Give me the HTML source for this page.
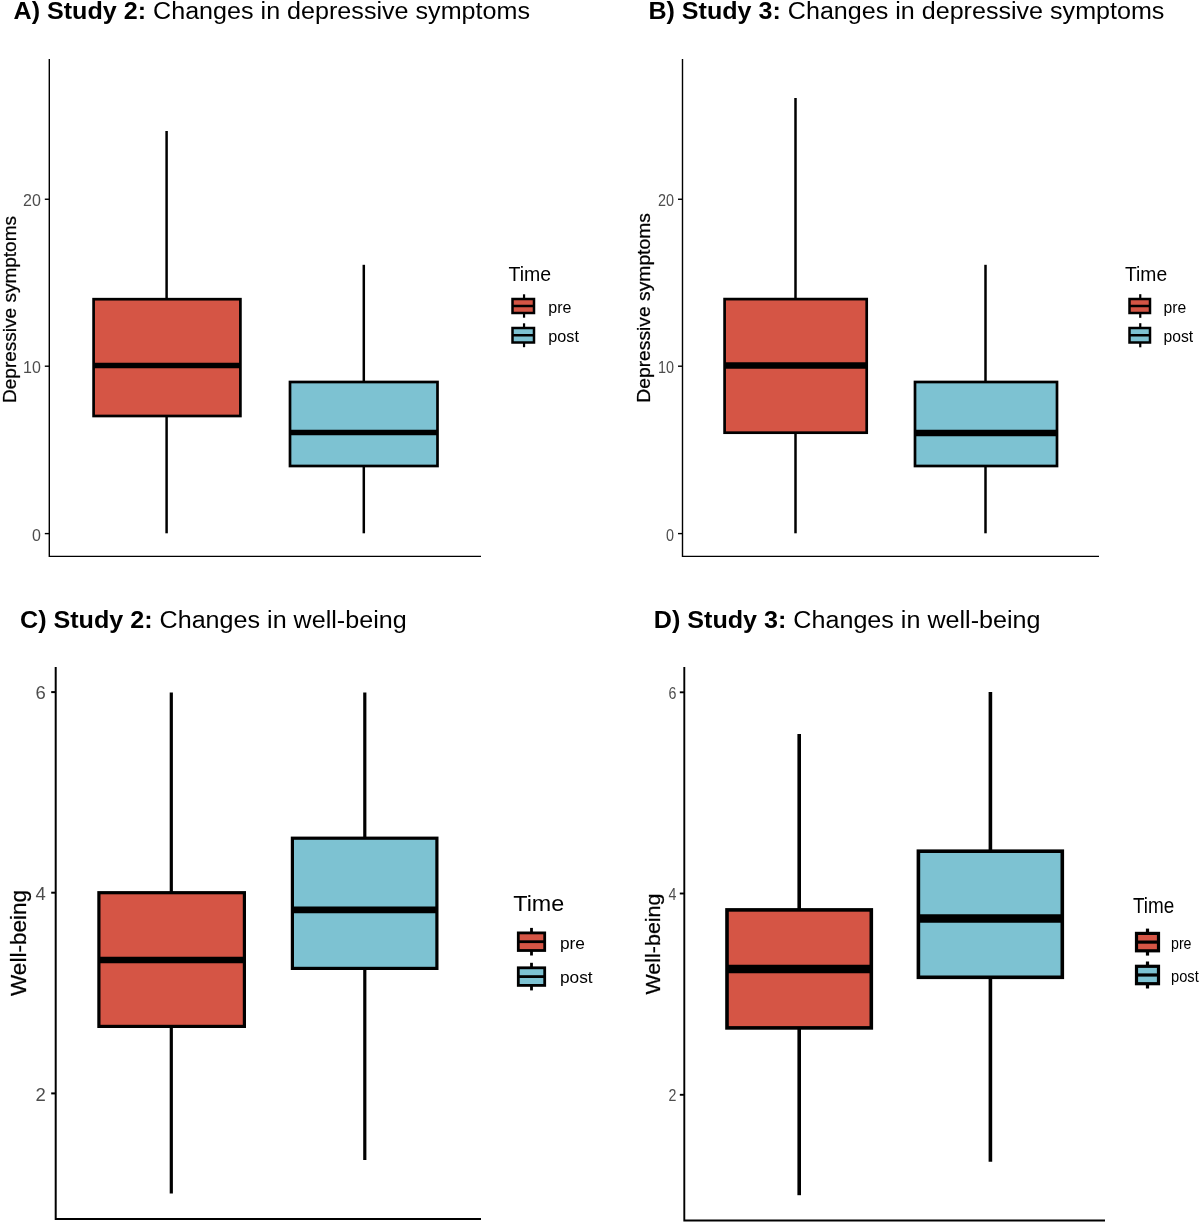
<!DOCTYPE html>
<html lang="en"><head><meta charset="utf-8"><title>Boxplots</title>
<style>
html,body{margin:0;padding:0;background:#fff;}
svg{display:block;font-family:"Liberation Sans", Arial, sans-serif;}
</style></head>
<body>
<svg width="1200" height="1223" viewBox="0 0 1200 1223">
<rect width="1200" height="1223" fill="#fff"/>
<text x="13.5" y="19" font-size="23.5" fill="#000" text-anchor="start" textLength="516.5" lengthAdjust="spacingAndGlyphs"><tspan font-weight="bold">A) Study 2:</tspan> Changes in depressive symptoms</text>
<polyline points="49.3,59 49.3,556.4 481,556.4" fill="none" stroke="#000" stroke-width="1.4"/>
<line x1="44.8" y1="199.25" x2="49.3" y2="199.25" stroke="#000" stroke-width="1.4"/>
<text x="40.8" y="206.37800000000001" font-size="16" fill="#4d4d4d" text-anchor="end">20</text>
<line x1="44.8" y1="366.2" x2="49.3" y2="366.2" stroke="#000" stroke-width="1.4"/>
<text x="40.8" y="373.328" font-size="16" fill="#4d4d4d" text-anchor="end">10</text>
<line x1="44.8" y1="533.6" x2="49.3" y2="533.6" stroke="#000" stroke-width="1.4"/>
<text x="40.8" y="540.728" font-size="16" fill="#4d4d4d" text-anchor="end">0</text>
<text transform="translate(16.2,309.5) rotate(-90)" font-size="18" fill="#000" stroke="#000" stroke-width="0.25" text-anchor="middle" textLength="187" lengthAdjust="spacingAndGlyphs">Depressive symptoms</text>
<line x1="166.6" y1="131" x2="166.6" y2="299.2" stroke="#000" stroke-width="2.5"/>
<line x1="166.6" y1="416" x2="166.6" y2="533.3" stroke="#000" stroke-width="2.5"/>
<rect x="93.6" y="299.2" width="146.8" height="116.80000000000001" fill="#D55545" stroke="#000" stroke-width="2.7"/>
<line x1="93.6" y1="365.5" x2="240.4" y2="365.5" stroke="#000" stroke-width="5.5"/>
<line x1="363.8" y1="264.8" x2="363.8" y2="382.0" stroke="#000" stroke-width="2.5"/>
<line x1="363.8" y1="466" x2="363.8" y2="533.3" stroke="#000" stroke-width="2.5"/>
<rect x="290" y="382.0" width="147.5" height="84.0" fill="#7DC2D2" stroke="#000" stroke-width="2.7"/>
<line x1="290" y1="432.6" x2="437.5" y2="432.6" stroke="#000" stroke-width="5.5"/>
<text x="508.5" y="281" font-size="19.5" fill="#000" text-anchor="start">Time</text>
<line x1="524.05" y1="294.3" x2="524.05" y2="317.7" stroke="#000" stroke-width="2.2"/><rect x="512.5" y="299" width="21.5" height="14" fill="#D55545" stroke="#000" stroke-width="2.5"/><line x1="512.5" y1="306.0" x2="534" y2="306.0" stroke="#000" stroke-width="2.5"/>
<line x1="524.05" y1="323.3" x2="524.05" y2="347.2" stroke="#000" stroke-width="2.2"/><rect x="512.5" y="328" width="21.5" height="14.5" fill="#7DC2D2" stroke="#000" stroke-width="2.5"/><line x1="512.5" y1="335.25" x2="534" y2="335.25" stroke="#000" stroke-width="2.5"/>
<text x="548.3" y="312.5" font-size="16" fill="#000" text-anchor="start">pre</text>
<text x="548.3" y="342" font-size="16.2" fill="#000" text-anchor="start">post</text>
<text x="648.4" y="19" font-size="23.5" fill="#000" text-anchor="start" textLength="516" lengthAdjust="spacingAndGlyphs"><tspan font-weight="bold">B) Study 3:</tspan> Changes in depressive symptoms</text>
<polyline points="682.5,59 682.5,556.4 1099,556.4" fill="none" stroke="#000" stroke-width="1.4"/>
<line x1="678.0" y1="199.25" x2="682.5" y2="199.25" stroke="#000" stroke-width="1.4"/>
<text x="674" y="206.37800000000001" font-size="16" fill="#4d4d4d" text-anchor="end" textLength="16" lengthAdjust="spacingAndGlyphs">20</text>
<line x1="678.0" y1="366.2" x2="682.5" y2="366.2" stroke="#000" stroke-width="1.4"/>
<text x="674" y="373.328" font-size="16" fill="#4d4d4d" text-anchor="end" textLength="16" lengthAdjust="spacingAndGlyphs">10</text>
<line x1="678.0" y1="533.6" x2="682.5" y2="533.6" stroke="#000" stroke-width="1.4"/>
<text x="674" y="540.728" font-size="16" fill="#4d4d4d" text-anchor="end" textLength="8" lengthAdjust="spacingAndGlyphs">0</text>
<text transform="translate(650.4,307.9) rotate(-90)" font-size="18" fill="#000" stroke="#000" stroke-width="0.25" text-anchor="middle" textLength="189.5" lengthAdjust="spacingAndGlyphs">Depressive symptoms</text>
<line x1="795.5" y1="98" x2="795.5" y2="299.1" stroke="#000" stroke-width="2.5"/>
<line x1="795.5" y1="432.7" x2="795.5" y2="533.3" stroke="#000" stroke-width="2.5"/>
<rect x="724.6" y="299.1" width="142.10000000000002" height="133.59999999999997" fill="#D55545" stroke="#000" stroke-width="2.7"/>
<line x1="724.6" y1="365.5" x2="866.7" y2="365.5" stroke="#000" stroke-width="6.5"/>
<line x1="985.5" y1="264.8" x2="985.5" y2="382.0" stroke="#000" stroke-width="2.5"/>
<line x1="985.5" y1="466" x2="985.5" y2="533.3" stroke="#000" stroke-width="2.5"/>
<rect x="915" y="382.0" width="142" height="84.0" fill="#7DC2D2" stroke="#000" stroke-width="2.7"/>
<line x1="915" y1="433" x2="1057" y2="433" stroke="#000" stroke-width="6.5"/>
<text x="1125" y="281" font-size="19.3" fill="#000" text-anchor="start">Time</text>
<line x1="1140.25" y1="294.2" x2="1140.25" y2="317.8" stroke="#000" stroke-width="2.2"/><rect x="1129.5" y="299" width="20.5" height="14" fill="#D55545" stroke="#000" stroke-width="2.5"/><line x1="1129.5" y1="306.0" x2="1150" y2="306.0" stroke="#000" stroke-width="2.5"/>
<line x1="1140.25" y1="323.2" x2="1140.25" y2="347.3" stroke="#000" stroke-width="2.2"/><rect x="1129.5" y="328" width="20.5" height="14.5" fill="#7DC2D2" stroke="#000" stroke-width="2.5"/><line x1="1129.5" y1="335.25" x2="1150" y2="335.25" stroke="#000" stroke-width="2.5"/>
<text x="1163.5" y="312.5" font-size="15.7" fill="#000" text-anchor="start">pre</text>
<text x="1163.5" y="342" font-size="15.7" fill="#000" text-anchor="start">post</text>
<text x="20" y="628" font-size="23.5" fill="#000" text-anchor="start" textLength="386.7" lengthAdjust="spacingAndGlyphs"><tspan font-weight="bold">C) Study 2:</tspan> Changes in well-being</text>
<polyline points="55.7,667 55.7,1219 481,1219" fill="none" stroke="#000" stroke-width="2.0"/>
<line x1="51.2" y1="692.1" x2="55.7" y2="692.1" stroke="#000" stroke-width="2.0"/>
<text x="45.7" y="699.3230000000001" font-size="18.5" fill="#4d4d4d" text-anchor="end">6</text>
<line x1="51.2" y1="892.7" x2="55.7" y2="892.7" stroke="#000" stroke-width="2.0"/>
<text x="45.7" y="899.9230000000001" font-size="18.5" fill="#4d4d4d" text-anchor="end">4</text>
<line x1="51.2" y1="1093.4" x2="55.7" y2="1093.4" stroke="#000" stroke-width="2.0"/>
<text x="45.7" y="1100.623" font-size="18.5" fill="#4d4d4d" text-anchor="end">2</text>
<text transform="translate(25.6,943) rotate(-90)" font-size="22.3" fill="#000" stroke="#000" stroke-width="0.25" text-anchor="middle" textLength="106" lengthAdjust="spacingAndGlyphs">Well-being</text>
<line x1="171.3" y1="692.5" x2="171.3" y2="892.7" stroke="#000" stroke-width="3.2"/>
<line x1="171.3" y1="1026.4" x2="171.3" y2="1193.5" stroke="#000" stroke-width="3.2"/>
<rect x="98.9" y="892.7" width="145.5" height="133.70000000000005" fill="#D55545" stroke="#000" stroke-width="3.2"/>
<line x1="98.9" y1="960" x2="244.4" y2="960" stroke="#000" stroke-width="6.7"/>
<line x1="364.8" y1="692.5" x2="364.8" y2="838.2" stroke="#000" stroke-width="3.2"/>
<line x1="364.8" y1="968.4" x2="364.8" y2="1160" stroke="#000" stroke-width="3.2"/>
<rect x="292.4" y="838.2" width="144.5" height="130.19999999999993" fill="#7DC2D2" stroke="#000" stroke-width="3.2"/>
<line x1="292.4" y1="909.8" x2="436.9" y2="909.8" stroke="#000" stroke-width="6.7"/>
<text x="513.3" y="910.7" font-size="21.4" fill="#000" text-anchor="start" textLength="51" lengthAdjust="spacingAndGlyphs">Time</text>
<line x1="531.5" y1="927.9" x2="531.5" y2="955.5" stroke="#000" stroke-width="2.8"/><rect x="518.3" y="932.9" width="26.40000000000009" height="17.600000000000023" fill="#D55545" stroke="#000" stroke-width="2.8"/><line x1="518.3" y1="941.7" x2="544.7" y2="941.7" stroke="#000" stroke-width="2.8"/>
<line x1="531.5" y1="962.8" x2="531.5" y2="990.4" stroke="#000" stroke-width="2.8"/><rect x="518.3" y="967.8" width="26.40000000000009" height="17.600000000000023" fill="#7DC2D2" stroke="#000" stroke-width="2.8"/><line x1="518.3" y1="976.5999999999999" x2="544.7" y2="976.5999999999999" stroke="#000" stroke-width="2.8"/>
<text x="560" y="948.5" font-size="17.3" fill="#000" text-anchor="start">pre</text>
<text x="560" y="983.4" font-size="17.3" fill="#000" text-anchor="start">post</text>
<text x="653.8" y="628" font-size="23.5" fill="#000" text-anchor="start" textLength="386.7" lengthAdjust="spacingAndGlyphs"><tspan font-weight="bold">D) Study 3:</tspan> Changes in well-being</text>
<polyline points="684.3,667 684.3,1220.5 1105,1220.5" fill="none" stroke="#000" stroke-width="1.9"/>
<line x1="679.8" y1="692.3" x2="684.3" y2="692.3" stroke="#000" stroke-width="1.9"/>
<text x="676.3" y="698.807" font-size="16.5" fill="#4d4d4d" text-anchor="end" textLength="7.9" lengthAdjust="spacingAndGlyphs">6</text>
<line x1="679.8" y1="893.5" x2="684.3" y2="893.5" stroke="#000" stroke-width="1.9"/>
<text x="676.3" y="900.0070000000001" font-size="16.5" fill="#4d4d4d" text-anchor="end" textLength="7.9" lengthAdjust="spacingAndGlyphs">4</text>
<line x1="679.8" y1="1094.8" x2="684.3" y2="1094.8" stroke="#000" stroke-width="1.9"/>
<text x="676.3" y="1101.3069999999998" font-size="16.5" fill="#4d4d4d" text-anchor="end" textLength="7.9" lengthAdjust="spacingAndGlyphs">2</text>
<text transform="translate(660,944) rotate(-90)" font-size="20" fill="#000" stroke="#000" stroke-width="0.25" text-anchor="middle" textLength="101" lengthAdjust="spacingAndGlyphs">Well-being</text>
<line x1="799.2" y1="734" x2="799.2" y2="909.9" stroke="#000" stroke-width="3.6"/>
<line x1="799.2" y1="1027.9" x2="799.2" y2="1195.2" stroke="#000" stroke-width="3.6"/>
<rect x="727" y="909.9" width="144.29999999999995" height="118.00000000000011" fill="#D55545" stroke="#000" stroke-width="3.6"/>
<line x1="727" y1="969" x2="871.3" y2="969" stroke="#000" stroke-width="8.3"/>
<line x1="990.4" y1="692" x2="990.4" y2="851.2" stroke="#000" stroke-width="3.6"/>
<line x1="990.4" y1="977.3" x2="990.4" y2="1161.7" stroke="#000" stroke-width="3.6"/>
<rect x="918.4" y="851.2" width="143.89999999999998" height="126.09999999999991" fill="#7DC2D2" stroke="#000" stroke-width="3.6"/>
<line x1="918.4" y1="918.5" x2="1062.3" y2="918.5" stroke="#000" stroke-width="8.3"/>
<text x="1133" y="913" font-size="21.6" fill="#000" text-anchor="start" textLength="41.3" lengthAdjust="spacingAndGlyphs">Time</text>
<line x1="1147.5" y1="928.6" x2="1147.5" y2="955.5999999999999" stroke="#000" stroke-width="3.2"/><rect x="1136.5" y="933.4" width="22.0" height="17.399999999999977" fill="#D55545" stroke="#000" stroke-width="3.2"/><line x1="1136.5" y1="942.0999999999999" x2="1158.5" y2="942.0999999999999" stroke="#000" stroke-width="3.2"/>
<line x1="1147.5" y1="961.5" x2="1147.5" y2="988.5" stroke="#000" stroke-width="3.2"/><rect x="1136.5" y="966.3" width="22.0" height="17.40000000000009" fill="#7DC2D2" stroke="#000" stroke-width="3.2"/><line x1="1136.5" y1="975.0" x2="1158.5" y2="975.0" stroke="#000" stroke-width="3.2"/>
<text x="1171" y="948.7" font-size="16.5" fill="#000" text-anchor="start" textLength="20.5" lengthAdjust="spacingAndGlyphs">pre</text>
<text x="1171" y="982" font-size="16.5" fill="#000" text-anchor="start" textLength="27.7" lengthAdjust="spacingAndGlyphs">post</text>
</svg>
</body></html>
